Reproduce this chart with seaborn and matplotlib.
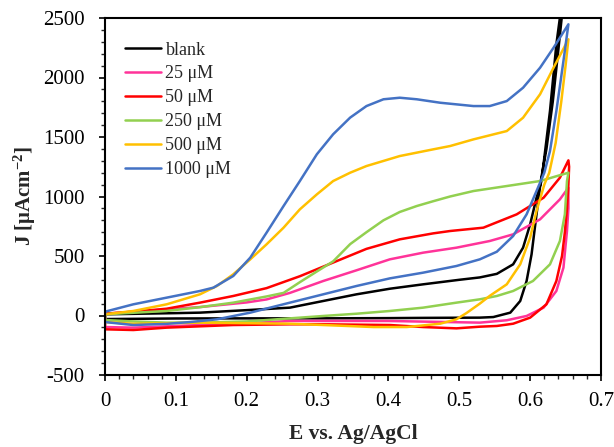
import numpy as np
import pandas as pd
import matplotlib
matplotlib.use("Agg")
from matplotlib import pyplot as plt
from matplotlib.ticker import MultipleLocator
import seaborn as sns

# scan = forward branch (0 -> 0.65 V) then reverse branch back to 0
labels = ["blank", "25 μM", "50 μM", "250 μM", "500 μM", "1000 μM"]
colors = ["#000000", "#FF3399", "#FF0000", "#92D050", "#FFC000", "#4472C4"]

e_blank = [0, 0.05, 0.1, 0.134, 0.2, 0.261, 0.308, 0.355, 0.402, 0.449, 0.5, 0.529, 0.553, 0.576, 0.59, 0.6, 0.609, 0.616, 0.628, 0.637, 0.642, 0.646,
           0.648, 0.641, 0.632, 0.623, 0.615, 0.609, 0.602, 0.595, 0.586, 0.572, 0.548, 0.529, 0.45, 0.4, 0.3, 0.2, 0.1, 0.04, 0]
j_blank = [10, 15, 20, 24, 45, 66, 122, 178, 225, 262, 300, 320, 350, 430, 570, 766, 990, 1130, 1718, 2279, 2502, 2700,
           2700, 2300, 1800, 1400, 1130, 850, 514, 290, 122, 24, -13, -18, -20, -22, -24, -24, -25, -28, -30]

e_25 = [0, 0.134, 0.2, 0.228, 0.261, 0.308, 0.355, 0.402, 0.449, 0.496, 0.543, 0.576, 0.614, 0.642, 0.654,
        0.654, 0.652, 0.647, 0.637, 0.619, 0.595, 0.567, 0.529, 0.4, 0.261, 0.2, 0.134, 0.04, 0]
j_25 = [15, 71, 110, 135, 190, 290, 380, 472, 528, 570, 626, 682, 808, 976, 1074,
        900, 710, 402, 206, 66, -4, -40, -60, -46, -46, -65, -80, -102, -97]

e_50 = [0, 0.04, 0.087, 0.134, 0.181, 0.228, 0.275, 0.322, 0.369, 0.416, 0.463, 0.487, 0.534, 0.581, 0.619, 0.642, 0.654,
        0.655, 0.654, 0.652, 0.649, 0.645, 0.637, 0.623, 0.6, 0.576, 0.553, 0.529, 0.496, 0.449, 0.402, 0.308, 0.261, 0.181, 0.087, 0.04, 0]
j_50 = [15, 32, 57, 108, 164, 230, 330, 445, 560, 640, 690, 710, 738, 850, 990, 1158, 1304,
        1250, 1100, 900, 700, 500, 290, 94, -18, -69, -88, -94, -108, -97, -80, -74, -74, -80, -102, -122, -116]

e_250 = [0, 0.087, 0.134, 0.181, 0.228, 0.252, 0.275, 0.299, 0.322, 0.346, 0.369, 0.393, 0.416, 0.44, 0.463, 0.487, 0.52, 0.567, 0.614, 0.654,
         0.652, 0.649, 0.642, 0.628, 0.604, 0.576, 0.553, 0.529, 0.496, 0.449, 0.402, 0.355, 0.308, 0.261, 0.2, 0.134, 0.087, 0.04, 0]
j_250 = [10, 38, 70, 108, 160, 190, 280, 370, 455, 600, 700, 800, 870, 920, 960, 1000, 1046, 1088, 1130, 1200,
         1130, 850, 626, 430, 290, 206, 164, 136, 108, 66, 38, 15, -4, -24, -50, -60, -60, -50, -38]

e_500 = [0, 0.04, 0.087, 0.134, 0.158, 0.181, 0.205, 0.228, 0.252, 0.275, 0.299, 0.322, 0.346, 0.369, 0.416, 0.463, 0.487, 0.52, 0.567, 0.59, 0.614, 0.633, 0.654,
         0.65, 0.644, 0.636, 0.627, 0.62, 0.609, 0.6, 0.586, 0.567, 0.543, 0.529, 0.51, 0.496, 0.473, 0.426, 0.379, 0.308, 0.261, 0.134, 0.04, 0]
j_500 = [10, 38, 94, 178, 248, 346, 472, 598, 738, 892, 1018, 1130, 1200, 1256, 1340, 1396, 1424, 1480, 1550, 1662, 1859, 2082, 2321,
         2100, 1800, 1450, 1200, 1100, 878, 654, 430, 262, 165, 100, 20, -32, -69, -97, -97, -80, -69, -60, -70, -55]

e_1000 = [0, 0.04, 0.087, 0.134, 0.153, 0.181, 0.205, 0.228, 0.252, 0.275, 0.299, 0.322, 0.346, 0.369, 0.393, 0.416, 0.44, 0.473, 0.52, 0.543, 0.567, 0.59, 0.614, 0.633, 0.654,
          0.647, 0.637, 0.628, 0.62, 0.609, 0.595, 0.576, 0.553, 0.529, 0.496, 0.449, 0.402, 0.355, 0.308, 0.261, 0.205, 0.158, 0.12, 0.087, 0.04, 0]
j_1000 = [32, 94, 150, 206, 234, 332, 486, 696, 920, 1130, 1355, 1523, 1663, 1760, 1817, 1830, 1817, 1788, 1760, 1760, 1802, 1914, 2082, 2250, 2447,
          2139, 1718, 1382, 1200, 1046, 850, 668, 536, 472, 416, 360, 312, 248, 178, 108, 24, -32, -55, -70, -80, -55]

series_e = [e_blank, e_25, e_50, e_250, e_500, e_1000]
series_j = [j_blank, j_25, j_50, j_250, j_500, j_1000]

rows = []
for lab, es, js in zip(labels, series_e, series_j):
    es = list(es) + [es[0]]   # close the loop at E = 0
    js = list(js) + [js[0]]
    for e, j in zip(es, js):
        rows.append({"E": e, "J": j, "conc": lab})
df = pd.DataFrame(rows)

sns.set_style("ticks")
plt.rcParams["font.family"] = ["Liberation Serif", "DejaVu Serif"]
plt.rcParams["mathtext.fontset"] = "custom"
plt.rcParams["mathtext.rm"] = "Liberation Serif"
plt.rcParams["mathtext.bf"] = "Liberation Serif:bold"
plt.rcParams["mathtext.default"] = "bf"
plt.rcParams["axes.unicode_minus"] = False

fig = plt.figure(figsize=(6.14, 4.47), dpi=100)
ax = fig.add_axes([105 / 614, 1 - 375 / 447, 496 / 614, 357 / 447])

sns.lineplot(data=df, x="E", y="J", hue="conc", hue_order=labels, palette=colors,
             sort=False, estimator=None, linewidth=1.8, ax=ax)

ax.set_xlim(0, 0.7)
ax.set_ylim(-500, 2500)
ax.xaxis.set_major_locator(MultipleLocator(0.1))
ax.xaxis.set_minor_locator(MultipleLocator(0.02))
ax.yaxis.set_major_locator(MultipleLocator(500))
ax.yaxis.set_minor_locator(MultipleLocator(100))
ax.xaxis.set_major_formatter(matplotlib.ticker.FuncFormatter(lambda v, p: "0" if abs(v) < 1e-9 else f"{v:.1f}"))
ax.tick_params(which="major", direction="out", length=4.5, width=1.2, labelsize=15, colors="black")
ax.tick_params(axis="x", which="major", pad=8)
ax.tick_params(axis="y", which="major", pad=10)
ax.tick_params(which="minor", direction="out", length=3, width=1.0)
for sp in ax.spines.values():
    sp.set_linewidth(1.5)
    sp.set_color("black")

ax.set_xlabel("E vs. Ag/AgCl", fontsize=15.5, fontweight="bold", labelpad=9)
ax.set_ylabel(r"J [μAcm$^{-2}$]", fontsize=15, fontweight="bold", labelpad=4)

sns.move_legend(ax, "upper left", bbox_to_anchor=(0.04, 0.934), frameon=False, title=None,
                fontsize=13, handlelength=2.0, handletextpad=0.25, labelspacing=0.38,
                borderpad=0, borderaxespad=0)

fig.savefig("out.png", dpi=100)
